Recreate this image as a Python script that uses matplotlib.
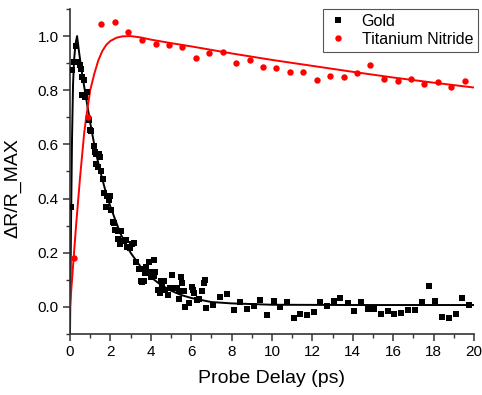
import numpy as np
import matplotlib
matplotlib.use("Agg")
import matplotlib.pyplot as plt
from matplotlib.ticker import MultipleLocator

plt.rcParams['font.family'] = ['Liberation Sans', 'DejaVu Sans']

# gold data (delay in ps, normalised dR/R)
gold_t = [0.06, 0.11, 0.21, 0.30, 0.38, 0.48, 0.54, 0.60, 0.61, 0.67, 0.76, 0.84,
          0.92, 0.97, 1.05, 1.17, 1.22, 1.28, 1.29, 1.39, 1.42, 1.47, 1.53, 1.63,
          1.70, 1.76, 1.83, 1.91, 1.96, 2.03, 2.11, 2.19, 2.24, 2.36, 2.38, 2.49,
          2.54, 2.65, 2.79, 2.82, 2.99, 3.07, 3.18, 3.28, 3.40, 3.51, 3.58, 3.61,
          3.64, 3.73, 3.78, 3.89, 3.98, 4.01, 4.14, 4.17, 4.22, 4.34, 4.44, 4.50,
          4.55, 4.67, 4.72, 4.83, 4.95, 5.05, 5.13, 5.30, 5.38, 5.40, 5.49, 5.55,
          5.62, 5.71, 5.87, 6.04, 6.09, 6.15, 6.29, 6.40, 6.53, 6.61, 6.70, 6.75,
          7.08, 7.41, 7.77, 8.10, 8.43, 8.76, 9.09, 9.42, 9.75, 10.08, 10.41, 10.74,
          11.07, 11.40, 11.73, 12.06, 12.39, 12.72, 13.05, 13.38, 13.74, 14.07, 14.40,
          14.73, 15.06, 15.40, 15.72, 16.05, 16.39, 16.71, 17.08, 17.41, 17.75, 18.08,
          18.42, 18.74, 19.09, 19.42, 19.75]
gold_r = [0.37, 0.875, 0.905, 0.963, 0.905, 0.893, 0.88, 0.85, 0.782, 0.838, 0.776, 0.795,
          0.69, 0.653, 0.65, 0.594, 0.573, 0.565, 0.528, 0.518, 0.565, 0.555, 0.503, 0.474,
          0.42, 0.37, 0.41, 0.395, 0.41, 0.358, 0.315, 0.311, 0.284, 0.25, 0.279, 0.232,
          0.279, 0.245, 0.247, 0.222, 0.216, 0.232, 0.237, 0.167, 0.139, 0.097, 0.092, 0.14,
          0.094, 0.124, 0.149, 0.167, 0.13, 0.11, 0.114, 0.173, 0.13, 0.063, 0.05, 0.097,
          0.075, 0.097, 0.063, 0.044, 0.07, 0.118, 0.069, 0.069, 0.028, 0.057, 0.11, 0.09,
          0.057, 0.001, 0.016, 0.075, 0.063, 0.05, 0.026, 0.03, 0.057, 0.087, 0.10, -0.005,
          0.007, 0.035, 0.048, -0.011, 0.017, -0.009, 0.004, 0.026, -0.031, 0.022, -0.001, 0.018,
          -0.041, -0.027, -0.031, -0.02, 0.018, 0.005, 0.023, 0.034, 0.013, -0.014, 0.018,
          -0.009, -0.006, -0.028, -0.016, -0.025, -0.021, -0.012, -0.011, 0.018, 0.076, 0.023,
          -0.036, -0.042, -0.025, 0.033, 0.006]

# titanium nitride data
tin_t = [0.18, 0.88, 1.55, 2.21, 2.89, 3.56, 4.24, 4.90, 5.56, 6.22, 6.90, 7.55,
         8.23, 8.89, 9.55, 10.21, 10.87, 11.53, 12.23, 12.89, 13.54, 14.21, 14.87,
         15.56, 16.22, 16.88, 17.54, 18.20, 18.86, 19.55]
tin_r = [0.18, 0.70, 1.044, 1.053, 1.016, 0.985, 0.97, 0.967, 0.959, 0.92, 0.939, 0.942,
         0.902, 0.911, 0.887, 0.881, 0.868, 0.868, 0.838, 0.851, 0.85, 0.863, 0.892,
         0.843, 0.834, 0.84, 0.822, 0.832, 0.813, 0.835]

# fit curves
gold_fit_t = [0.0, 0.05, 0.10, 0.15, 0.20, 0.27, 0.35, 0.45, 0.60, 0.80, 1.00, 1.25,
              1.50, 1.75, 2.00, 2.50, 3.00, 3.50, 4.00, 4.50, 5.00, 5.50, 6.00, 7.00,
              8.00, 10.0, 14.0, 20.0]
gold_fit_r = [-0.10, 0.30, 0.62, 0.82, 0.91, 0.97, 1.00, 0.94, 0.86, 0.77, 0.68, 0.58,
              0.50, 0.43, 0.37, 0.27, 0.20, 0.148, 0.11, 0.081, 0.06, 0.044, 0.033, 0.018,
              0.013, 0.008, 0.007, 0.007]

tin_fit_t = [0.0, 0.1, 0.2, 0.3, 0.4, 0.5, 0.6, 0.7, 0.8, 0.9, 1.0, 1.2, 1.4, 1.6,
             1.8, 2.0, 2.3, 2.6, 3.0, 3.5, 4.0, 5.0, 6.0, 7.0, 8.0, 10.0, 12.0, 14.0,
             16.0, 18.0, 20.0]
tin_fit_r = [0.0, 0.10, 0.20, 0.30, 0.39, 0.48, 0.56, 0.64, 0.70, 0.75, 0.80, 0.86,
             0.91, 0.945, 0.968, 0.982, 0.994, 0.999, 1.0, 0.995, 0.987, 0.974, 0.962,
             0.949, 0.936, 0.912, 0.89, 0.868, 0.847, 0.828, 0.81]

fig = plt.figure(figsize=(4.82, 3.95), dpi=100)
ax = fig.add_axes([70 / 482, 1 - 334 / 395, 404 / 482, 325 / 395])

ax.plot(gold_t, gold_r, 's', color='black', ms=3.7, mew=0, label='Gold', zorder=3)
ax.plot(tin_t, tin_r, 'o', color='red', ms=4.6, mew=0, label='Titanium Nitride', zorder=3)
ax.plot(gold_fit_t, gold_fit_r, '-', color='black', lw=1.4, zorder=2)
ax.plot(tin_fit_t, tin_fit_r, '-', color='red', lw=1.4, zorder=2)

ax.set_xlim(0, 20)
ax.set_ylim(-0.1, 1.1)
ax.xaxis.set_major_locator(MultipleLocator(2))
ax.xaxis.set_minor_locator(MultipleLocator(1))
ax.yaxis.set_major_locator(MultipleLocator(0.2))
ax.yaxis.set_minor_locator(MultipleLocator(0.1))
ax.set_yticks([0.0, 0.2, 0.4, 0.6, 0.8, 1.0])
ax.yaxis.set_major_formatter(plt.FuncFormatter(lambda v, p: f'{v:.1f}'))

for s in ['top', 'right']:
    ax.spines[s].set_visible(False)
for s in ['left', 'bottom']:
    ax.spines[s].set_linewidth(1.2)
    ax.spines[s].set_color('#333333')
ax.tick_params(which='major', direction='out', length=5, width=1.1, labelsize=11,
               color='#333333', pad=3)
ax.tick_params(which='minor', direction='out', length=3, width=1.0, color='#333333')

ax.set_xlabel('Probe Delay (ps)', fontsize=14, labelpad=8)
ax.set_ylabel('ΔR/R_MAX', fontsize=14)
ax.yaxis.set_label_coords(-0.12, 0.45)

leg = ax.legend(loc='upper right', bbox_to_anchor=(478 / 482, 1 - 9 / 395),
                bbox_transform=fig.transFigure, borderaxespad=0, fontsize=11.5,
                fancybox=False, framealpha=1, edgecolor='#555555',
                handlelength=1.2, handletextpad=0.9, borderpad=0.3, labelspacing=0.2)
leg.get_frame().set_linewidth(0.8)

fig.savefig('out.png', dpi=100)
